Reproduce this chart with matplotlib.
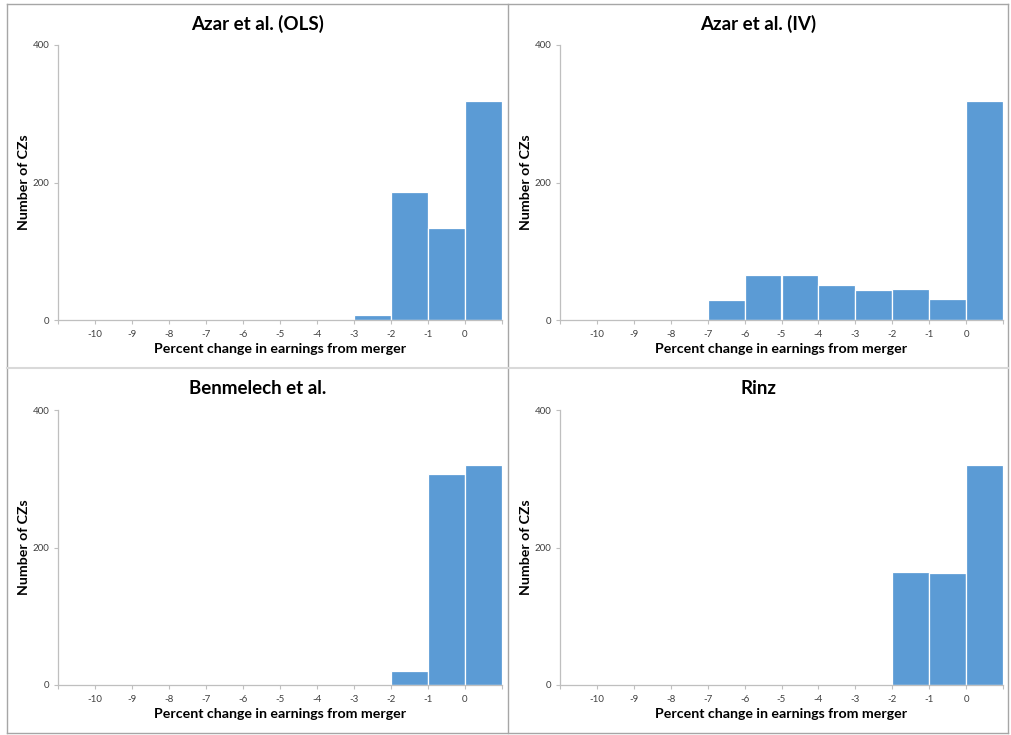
import matplotlib
matplotlib.use('Agg')
import matplotlib.pyplot as plt
from matplotlib.lines import Line2D

plt.rcParams['font.family'] = ['Lato', 'DejaVu Sans']

# ── Data ──────────────────────────────────────────────────────────────────────
bin_edges = [-11, -10, -9, -8, -7, -6, -5, -4, -3, -2, -1, 0, 1]
tick_labels = ['', '-10', '-9', '-8', '-7', '-6', '-5', '-4', '-3', '-2', '-1', '0', '']

titles = ['Azar et al. (OLS)', 'Azar et al. (IV)', 'Benmelech et al.', 'Rinz']
counts_ols       = [0, 0, 0, 0, 0, 0, 0, 0, 8, 186, 134, 319]
counts_iv        = [0, 0, 0, 0, 29, 65, 65, 51, 43, 45, 31, 319]
counts_benmelech = [0, 0, 0, 0, 0, 0, 0, 0, 0, 21, 307, 320]
counts_rinz      = [0, 0, 0, 0, 0, 0, 0, 0, 0, 164, 163, 320]
all_counts = [counts_ols, counts_iv, counts_benmelech, counts_rinz]

# ── Layout (pixels) ───────────────────────────────────────────────────────────
W, H = 1011, 735
BAR = '#5B9BD5'
AXIS = '#BFBFBF'

fig = plt.figure(figsize=(W / 100, H / 100), dpi=100)

# axes boxes: left, top, right, bottom
boxes = [(58, 45, 502, 320), (560, 45, 1003, 320),
         (58, 410, 502, 685), (560, 410, 1003, 685)]
panels = [(7, 4, 508, 368), (508, 4, 1008, 368),
          (7, 368, 508, 733), (508, 368, 1008, 733)]

for title, counts, (l, t, r, b), (pl, pt, pr, pb) in zip(titles, all_counts, boxes, panels):
    ax = fig.add_axes([l / W, 1 - b / H, (r - l) / W, (b - t) / H])
    ax.bar(bin_edges[:-1], counts, width=1, align='edge', color=BAR,
           edgecolor='white', linewidth=0.9)
    ax.set_xlim(bin_edges[0], bin_edges[-1])
    ax.set_ylim(0, 400)
    ax.set_xticks(bin_edges)
    ax.set_xticklabels(tick_labels)
    ax.set_yticks([0, 200, 400])
    ax.tick_params(labelsize=7, length=3, width=0.8)
    ax.tick_params(axis='x', colors=AXIS, labelcolor='#404040', pad=4)
    ax.tick_params(axis='y', colors=AXIS, labelcolor='#404040', pad=3)
    for s in ['top', 'right']:
        ax.spines[s].set_visible(False)
    for s in ['left', 'bottom']:
        ax.spines[s].set_color(AXIS)
        ax.spines[s].set_linewidth(0.9)

    fig.text((pl + pr) / 2 / W, 1 - (pt + 20) / H, title, ha='center', va='center',
             fontsize=13.5, fontweight='bold')
    fig.text((l + r) / 2 / W, 1 - (b + 29) / H, 'Percent change in earnings from merger',
             ha='center', va='center', fontsize=10.2, fontweight='bold')
    fig.text((l - 34) / W, 1 - (t + b) / 2 / H, 'Number of CZs', rotation=90,
             ha='center', va='center', fontsize=10.2, fontweight='bold')

# ── Panel borders ─────────────────────────────────────────────────────────────
border = dict(color='#A6A6A6', linewidth=1.0, transform=fig.transFigure)
def seg(x0, y0, x1, y1, **kw):
    fig.add_artist(Line2D([x0 / W, x1 / W], [1 - y0 / H, 1 - y1 / H], **kw))

seg(7, 4, 1008, 4, **border)
seg(7, 733, 1008, 733, **border)
seg(7, 4, 7, 733, **border)
seg(1008, 4, 1008, 733, **border)
seg(508, 4, 508, 733, **border)
seg(7, 368, 1008, 368, color='#D9D9D9', linewidth=1.5, transform=fig.transFigure)

fig.savefig('out.png', dpi=100)
